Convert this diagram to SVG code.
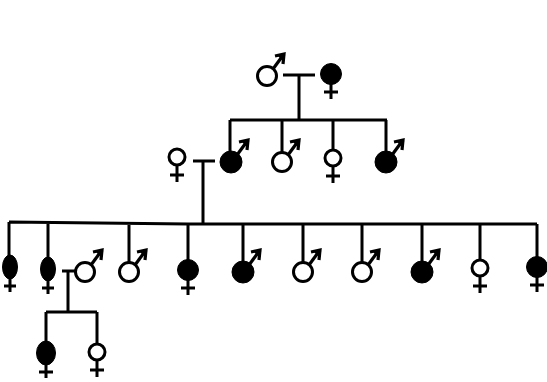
<svg xmlns="http://www.w3.org/2000/svg" width="547" height="382" viewBox="0 0 547 382">
<style>
.ln{stroke:#000;stroke-width:3;fill:none;stroke-linecap:butt}
.op{fill:#fff;stroke:#000;stroke-width:3}
.fl{fill:#000;stroke:#000;stroke-width:1}
.ar{stroke:#000;stroke-width:3.2;fill:none;stroke-linejoin:miter}
</style>
<defs>
<g id="marrow"><path class="ar" d="M6,-7 L17,-22"/><path class="ar" d="M8,-20 L17,-22 L16,-12"/><path d="M11,-20 L17,-22 L16,-15 Z" fill="#000"/></g>
<g id="male-open"><circle class="op" cx="0" cy="0" r="9.5"/><use href="#marrow"/></g>
<g id="male-fill"><circle class="fl" cx="0" cy="0" r="11"/><use href="#marrow"/></g>
<g id="fcross"><path class="ln" d="M0,8 V25 M-7,18 H7"/></g>
<g id="fem-open"><use href="#fcross"/><circle class="op" cx="0" cy="0" r="8"/></g>
<g id="fem-fill"><use href="#fcross"/><circle class="fl" cx="0" cy="0" r="10.5"/></g>
<g id="fem-oval"><path class="ln" d="M0,10 V25 M-6,19 H6"/><ellipse class="fl" cx="0" cy="0" rx="7.5" ry="12"/></g>
<g id="fem-oval2"><path class="ln" d="M0,10 V25 M-7,19 H7"/><ellipse class="fl" cx="0" cy="0" rx="9.5" ry="12"/></g>
</defs>
<g id="connectors">
<path class="ln" d="M283,75 H315 M299,75 V120"/>
<path class="ln" d="M230,120 H387 M230,120 V152 M282,120 V152 M333,120 V150 M386,120 V152"/>
<path class="ln" d="M193,161 H215 M203,161 V223"/>
<path class="ln" d="M9,222 L188,224 L537,224 M9,222 V256 M48,223 V258 M129,223 V262 M188,224 V260 M243,224 V262 M303,224 V262 M362,224 V262 M422,224 V262 M480,224 V260 M537,224 V257"/>
<path class="ln" d="M62,271 H77 M68,271 V312 M46,312 H97 M46,312 V342 M97,312 V344"/>
</g>
<g id="n-gf"><use href="#male-open" x="267" y="76"/></g>
<g id="n-gm"><use href="#fem-fill" x="331" y="74"/></g>
<g id="n-m1"><use href="#fem-open" x="177" y="157"/></g>
<g id="n-c1"><use href="#male-fill" x="231" y="162"/></g>
<g id="n-c2"><use href="#male-open" x="282" y="162"/></g>
<g id="n-c3"><use href="#fem-open" x="333" y="158"/></g>
<g id="n-c4"><use href="#male-fill" x="386" y="162"/></g>
<g id="n-g1"><use href="#fem-oval" x="10" y="267"/></g>
<g id="n-g2"><use href="#fem-oval" x="48" y="269"/></g>
<g id="n-sp"><use href="#male-open" x="85" y="272"/></g>
<g id="n-g3"><use href="#male-open" x="129" y="272"/></g>
<g id="n-g4"><use href="#fem-fill" x="188" y="270"/></g>
<g id="n-g5"><use href="#male-fill" x="243" y="272"/></g>
<g id="n-g6"><use href="#male-open" x="303" y="272"/></g>
<g id="n-g7"><use href="#male-open" x="362" y="272"/></g>
<g id="n-g8"><use href="#male-fill" x="422" y="272"/></g>
<g id="n-g9"><use href="#fem-open" x="480" y="268"/></g>
<g id="n-g10"><use href="#fem-fill" x="537" y="267"/></g>
<g id="n-h1"><use href="#fem-oval2" x="46" y="353"/></g>
<g id="n-h2"><use href="#fem-open" x="97" y="352"/></g>
</svg>
